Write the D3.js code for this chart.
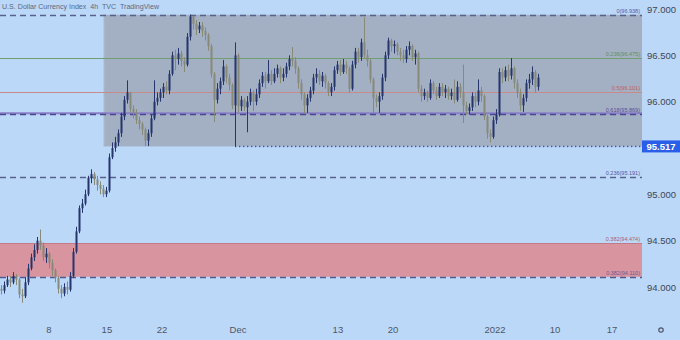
<!DOCTYPE html>
<html>
<head>
<meta charset="utf-8">
<script src="https://cdn.jsdelivr.net/npm/d3@7"></script>
<style>
  html, body { margin: 0; padding: 0; background: #bbd8f8; }
  svg { display: block; font-family: "Liberation Sans", Arial, sans-serif; }
</style>
</head>
<body>
<svg id="chart" width="680" height="340"></svg>
<script>
// 4h candles, open of each bar = close of the bar before
var firstOpen = 93.98;
var closes = [
  93.96, 94.02, 94.08, 94.05, 94.12, 94.08, 93.92, 93.90, 94.05, 94.20,
  94.32, 94.40, 94.50, 94.45, 94.32, 94.36, 94.26, 94.18, 94.10, 93.98,
  93.93, 94.00, 93.97, 94.12, 94.38, 94.60, 94.85, 94.90, 95.00, 95.18,
  95.22, 95.16, 95.10, 95.06, 95.00, 95.04, 95.40, 95.50, 95.56, 95.66,
  95.84, 96.02, 96.10, 95.92, 95.88, 95.80, 95.76, 95.70, 95.58, 95.66,
  95.82, 96.00, 96.04, 96.10, 96.16, 96.12, 96.30, 96.50, 96.46, 96.52,
  96.44, 96.40, 96.70, 96.92, 96.84, 96.78, 96.82, 96.76, 96.72, 96.60,
  96.30, 96.02, 96.14, 96.22, 96.38, 96.26, 96.18, 95.96, 96.50, 95.95,
  96.02, 95.94, 96.00, 96.10, 96.00, 96.08, 96.20, 96.28, 96.22, 96.30,
  96.22, 96.30, 96.36, 96.26, 96.30, 96.38, 96.46, 96.44, 96.36, 96.20,
  96.08, 95.96, 96.04, 96.12, 96.26, 96.30, 96.22, 96.28, 96.20, 96.10,
  96.16, 96.34, 96.40, 96.32, 96.40, 96.36, 96.14, 96.40, 96.54, 96.48,
  96.64, 96.50, 96.44, 96.24, 96.04, 96.00, 96.06, 96.26, 96.50, 96.66,
  96.60, 96.62, 96.54, 96.50, 96.46, 96.56, 96.60, 96.48, 96.52, 96.14,
  96.06, 96.10, 96.04, 96.20, 96.12, 96.06, 96.16, 96.10, 96.14, 96.06,
  96.10, 96.02, 96.16, 96.10, 95.96, 95.90, 95.94, 96.06, 96.00, 96.12,
  96.06, 95.84, 95.66, 95.62, 95.80, 95.86, 96.32, 96.26, 96.34, 96.28,
  96.36, 96.20, 96.10, 95.96, 96.04, 96.20, 96.24, 96.32, 96.16, 96.26
];
var highs = [
  94.02, 94.06, 94.12, 94.12, 94.16, 94.14, 94.10, 93.98, 94.10, 94.25,
  94.36, 94.46, 94.54, 94.62, 94.48, 94.42, 94.38, 94.30, 94.20, 94.12,
  94.02, 94.04, 94.06, 94.16, 94.42, 94.65, 94.88, 94.95, 95.05, 95.20,
  95.27, 95.24, 95.20, 95.14, 95.10, 95.08, 95.44, 95.56, 95.62, 95.70,
  95.88, 96.06, 96.23, 96.10, 95.96, 95.92, 95.84, 95.78, 95.72, 95.70,
  95.86, 96.23, 96.10, 96.14, 96.20, 96.22, 96.34, 96.54, 96.56, 96.58,
  96.55, 96.48, 96.74, 96.94, 96.93, 96.88, 96.86, 96.86, 96.80, 96.74,
  96.62, 96.32, 96.20, 96.26, 96.45, 96.40, 96.30, 96.20, 96.64, 96.52,
  96.06, 96.04, 96.06, 96.14, 96.12, 96.14, 96.24, 96.32, 96.32, 96.45,
  96.34, 96.36, 96.40, 96.38, 96.36, 96.42, 96.50, 96.59, 96.48, 96.38,
  96.24, 96.10, 96.08, 96.16, 96.30, 96.36, 96.34, 96.32, 96.30, 96.22,
  96.20, 96.38, 96.44, 96.45, 96.46, 96.44, 96.38, 96.44, 96.58, 96.58,
  96.68, 96.91, 96.56, 96.46, 96.26, 96.08, 96.10, 96.30, 96.54, 96.69,
  96.68, 96.66, 96.64, 96.58, 96.56, 96.60, 96.65, 96.62, 96.56, 96.54,
  96.18, 96.14, 96.12, 96.24, 96.22, 96.16, 96.20, 96.20, 96.18, 96.16,
  96.14, 96.24, 96.22, 96.20, 96.40, 96.00, 95.98, 96.10, 96.10, 96.24,
  96.16, 96.08, 95.86, 95.70, 95.84, 95.92, 96.36, 96.36, 96.38, 96.40,
  96.47, 96.38, 96.24, 96.14, 96.08, 96.24, 96.30, 96.38, 96.34, 96.30
];
var lows = [
  93.92, 93.93, 94.00, 94.00, 94.03, 94.02, 93.88, 93.83, 93.88, 94.02,
  94.18, 94.28, 94.36, 94.40, 94.28, 94.26, 94.20, 94.12, 94.05, 93.93,
  93.88, 93.90, 93.92, 93.95, 94.10, 94.36, 94.58, 94.80, 94.88, 94.98,
  95.12, 95.10, 95.04, 95.00, 94.97, 94.97, 95.02, 95.38, 95.46, 95.52,
  95.62, 95.80, 95.98, 95.88, 95.82, 95.76, 95.70, 95.64, 95.52, 95.52,
  95.62, 95.80, 95.96, 96.00, 96.04, 96.08, 96.08, 96.28, 96.34, 96.40,
  96.38, 96.32, 96.38, 96.66, 96.78, 96.72, 96.74, 96.70, 96.66, 96.55,
  96.26, 95.78, 95.98, 96.08, 96.18, 96.20, 96.12, 95.92, 95.517, 95.88,
  95.90, 95.90, 95.67, 95.96, 95.90, 95.96, 96.04, 96.16, 96.14, 96.20,
  96.18, 96.20, 96.26, 96.20, 96.22, 96.26, 96.34, 96.38, 96.30, 96.14,
  96.02, 95.87, 95.88, 96.00, 96.08, 96.20, 96.18, 96.16, 96.14, 96.06,
  96.06, 96.12, 96.30, 96.28, 96.30, 96.30, 96.10, 96.12, 96.36, 96.42,
  96.44, 96.46, 96.38, 96.20, 95.88, 95.94, 95.88, 96.02, 96.22, 96.46,
  96.54, 96.52, 96.50, 96.44, 96.42, 96.42, 96.50, 96.44, 96.40, 96.10,
  96.00, 96.02, 96.00, 96.02, 96.08, 96.02, 96.04, 96.06, 96.04, 96.02,
  96.02, 95.98, 96.00, 96.04, 95.77, 95.86, 95.86, 95.90, 95.94, 95.96,
  96.00, 95.80, 95.60, 95.56, 95.60, 95.76, 95.84, 96.20, 96.22, 96.22,
  96.24, 96.14, 96.04, 95.90, 95.89, 96.00, 96.14, 96.18, 96.10, 96.12
];

// time axis: position of each label, in bars
var tickLabels = ["8", "15", "22", "Dec", "13", "20", "2022", "10", "17"];
var tickBars = [16, 35.3, 53.7, 79, 112.3, 130.7, 164.7, 184.7, 203.7];

var priceTicks = [97, 96.5, 96, 95, 94.5, 94];
var lastLow = 95.517;
var boxTop = 96.938, boxStartBar = 34.3, lowLineStartBar = 78;
var zoneTop = 94.474, zoneBottom = 94.110;

var fibValues = [96.938, 96.475, 96.101, 95.869, 95.191, 94.474, 94.110];
var fibLabels = ["0(96.938)", "0.236(96.475)", "0.5(96.101)", "0.618(95.869)",
                 "0.236(95.191)", "0.382(94.474)", "0.382(94.110)"];

var svg = d3.select("#chart");
var W = 680, H = 340, plotRight = 642;

var x = d3.scaleLinear().domain([0, 213]).range([1, 640]);
var y = d3.scaleLinear().domain([94, 97]).range([287, 9]);

var bars = closes.map(function(c, i) {
    return { i: i, o: i ? closes[i - 1] : firstOpen, c: c, h: highs[i], l: lows[i] };
});

// background
svg.append("rect").attr("width", W).attr("height", H).attr("fill", "#bbd8f8");

// range box
svg.append("rect")
    .attr("x", x(boxStartBar)).attr("y", y(boxTop))
    .attr("width", plotRight - x(boxStartBar)).attr("height", y(lastLow) - y(boxTop))
    .attr("fill", "#a3afc2");
svg.append("line")
    .attr("x1", x(boxStartBar)).attr("x2", x(boxStartBar))
    .attr("y1", y(boxTop)).attr("y2", y(lastLow))
    .attr("stroke", "#b4c0d2").attr("stroke-width", 1);

// red zone
svg.append("rect")
    .attr("x", 0).attr("y", y(zoneTop))
    .attr("width", plotRight).attr("height", y(zoneBottom) - y(zoneTop))
    .attr("fill", "#d8959f");

// fib lines
var fibStyle = [
    { color: "#56628c", dash: "6,4", w: 1.3, text: "#5a55a0" },
    { color: "#6f9f70", dash: null, w: 1, text: "#5f8f5f" },
    { color: "#c98a8a", dash: null, w: 1, text: "#c06060" },
    { color: "#4a4790", dash: "6,4", w: 1.5, text: "#5a4ea0" },
    { color: "#56628c", dash: "6,4", w: 1.3, text: "#5a55a0" },
    { color: "#c27b86", dash: null, w: 1, text: "#b0606a" },
    { color: "#55578a", dash: "6,4", w: 1.3, text: "#6a5a9a" }
];
// light solid under the 0.618 dashes
svg.append("line")
    .attr("x1", 0).attr("x2", plotRight)
    .attr("y1", y(fibValues[3]) - 0.5).attr("y2", y(fibValues[3]) - 0.5)
    .attr("stroke", "#8a80c8").attr("stroke-width", 2);

fibValues.forEach(function(v, k) {
    var s = fibStyle[k];
    svg.append("line")
        .attr("x1", 0).attr("x2", plotRight)
        .attr("y1", Math.round(y(v)) + 0.5).attr("y2", Math.round(y(v)) + 0.5)
        .attr("stroke", s.color).attr("stroke-width", s.w)
        .attr("stroke-dasharray", s.dash);
    svg.append("text")
        .attr("x", 640).attr("y", y(v) - 2)
        .attr("text-anchor", "end")
        .attr("font-size", "5.5px")
        .attr("fill", s.text)
        .text(fibLabels[k]);
});

// dotted line at the last swing low
svg.append("line")
    .attr("x1", x(lowLineStartBar)).attr("x2", plotRight)
    .attr("y1", Math.round(y(lastLow)) + 0.5).attr("y2", Math.round(y(lastLow)) + 0.5)
    .attr("stroke", "#3a57a8").attr("stroke-width", 1.3)
    .attr("stroke-dasharray", "1.3,2.7");

// candles
var g = svg.append("g");
g.selectAll("line.wick")
    .data(bars).enter().append("line")
    .attr("x1", d => Math.round(x(d.i)) + 0.5).attr("x2", d => Math.round(x(d.i)) + 0.5)
    .attr("y1", d => y(d.h)).attr("y2", d => y(d.l))
    .attr("stroke", d => d.c >= d.o ? "#26356c" : "#878a78")
    .attr("stroke-width", 1);
g.selectAll("rect.body")
    .data(bars).enter().append("rect")
    .attr("x", d => Math.round(x(d.i)) - 0.5)
    .attr("y", d => y(Math.max(d.o, d.c)))
    .attr("width", 2)
    .attr("height", d => Math.max(1, Math.abs(y(d.o) - y(d.c))))
    .attr("fill", d => d.c >= d.o ? "#26356c" : "#878a78");

// price axis
svg.selectAll("text.price")
    .data(priceTicks).enter().append("text")
    .attr("x", 647).attr("y", d => y(d) + 3.5)
    .attr("font-size", "9.5px")
    .attr("fill", "#3f4654")
    .text(d => d3.format(".3f")(d));

svg.append("rect")
    .attr("x", plotRight).attr("y", y(lastLow) - 6)
    .attr("width", 38).attr("height", 12)
    .attr("fill", "#2a5ee8");
svg.append("text")
    .attr("x", 661).attr("y", y(lastLow) + 3.5)
    .attr("text-anchor", "middle")
    .attr("font-size", "9.5px").attr("font-weight", "bold")
    .attr("fill", "#ffffff")
    .text(d3.format(".3f")(lastLow));

// time axis
svg.selectAll("text.time")
    .data(tickLabels).enter().append("text")
    .attr("x", (d, i) => x(tickBars[i])).attr("y", 333)
    .attr("text-anchor", "middle")
    .attr("font-size", "9.5px")
    .attr("fill", "#4e5668")
    .text(d => d);

// settings gear
svg.append("circle")
    .attr("cx", 661).attr("cy", 330).attr("r", 2.2)
    .attr("fill", "none").attr("stroke", "#4e5668").attr("stroke-width", 1.2);

// title
svg.append("text")
    .attr("x", 2).attr("y", 9)
    .attr("font-size", "7.5px")
    .attr("fill", "#5b6983")
    .attr("xml:space", "preserve")
    .attr("textLength", 157)
    .attr("lengthAdjust", "spacingAndGlyphs")
    .text("U.S. Dollar Currency Index  4h  TVC  TradingView");
</script>
</body>
</html>
